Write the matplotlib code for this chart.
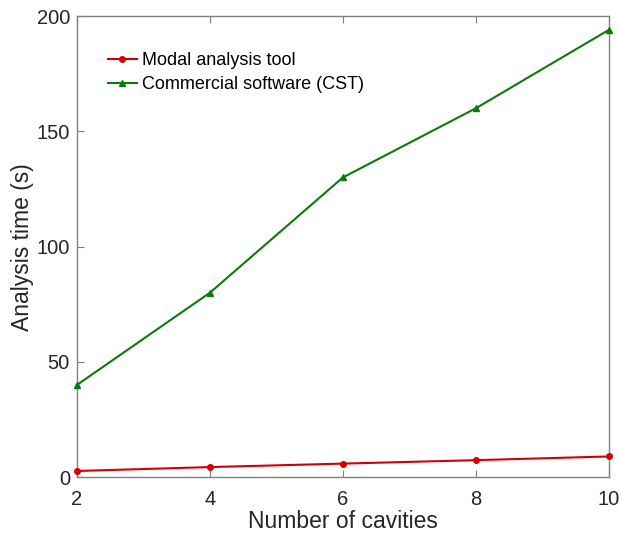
import matplotlib
matplotlib.use("Agg")
import matplotlib.pyplot as plt

cavities = [2, 4, 6, 8, 10]
modal_time = [2.7, 4.4, 5.9, 7.4, 9.0]
cst_time = [40, 80, 130, 160, 194]

plt.rcParams["font.family"] = ["Liberation Sans", "DejaVu Sans"]

fig = plt.figure(figsize=(6.2, 5.35), dpi=100)
ax = fig.add_axes([0.124, 0.108, 0.858, 0.862])

ax.plot(cavities, modal_time, color="#d40000", marker="o", markersize=4,
        linewidth=1.5, label="Modal analysis tool", clip_on=False, zorder=3)
ax.plot(cavities, cst_time, color="#0a7a0a", marker="^", markersize=5,
        linewidth=1.5, label="Commercial software (CST)", clip_on=False, zorder=3)

ax.set_xlim(2, 10)
ax.set_ylim(0, 200)
ax.set_xticks(cavities)
ax.set_yticks([0, 50, 100, 150, 200])
ax.set_xlabel("Number of cavities", fontsize=16.5, color="#262626", labelpad=1)
ax.set_ylabel("Analysis time (s)", fontsize=16.5, color="#262626", labelpad=2)
ax.tick_params(direction="in", labelsize=14.5, color="#808080",
               labelcolor="#262626", length=5, top=True, right=False, width=0.8)
ax.tick_params(axis="x", pad=9)
ax.tick_params(axis="y", pad=5)
for s in ax.spines.values():
    s.set_color("#808080")
    s.set_linewidth(1.0)

leg = ax.legend(loc="upper left", bbox_to_anchor=(0.045, 0.938), frameon=False,
                fontsize=13, handlelength=1.6, handletextpad=0.3,
                labelspacing=0.4, borderaxespad=0)

fig.savefig("out.png", dpi=100)
